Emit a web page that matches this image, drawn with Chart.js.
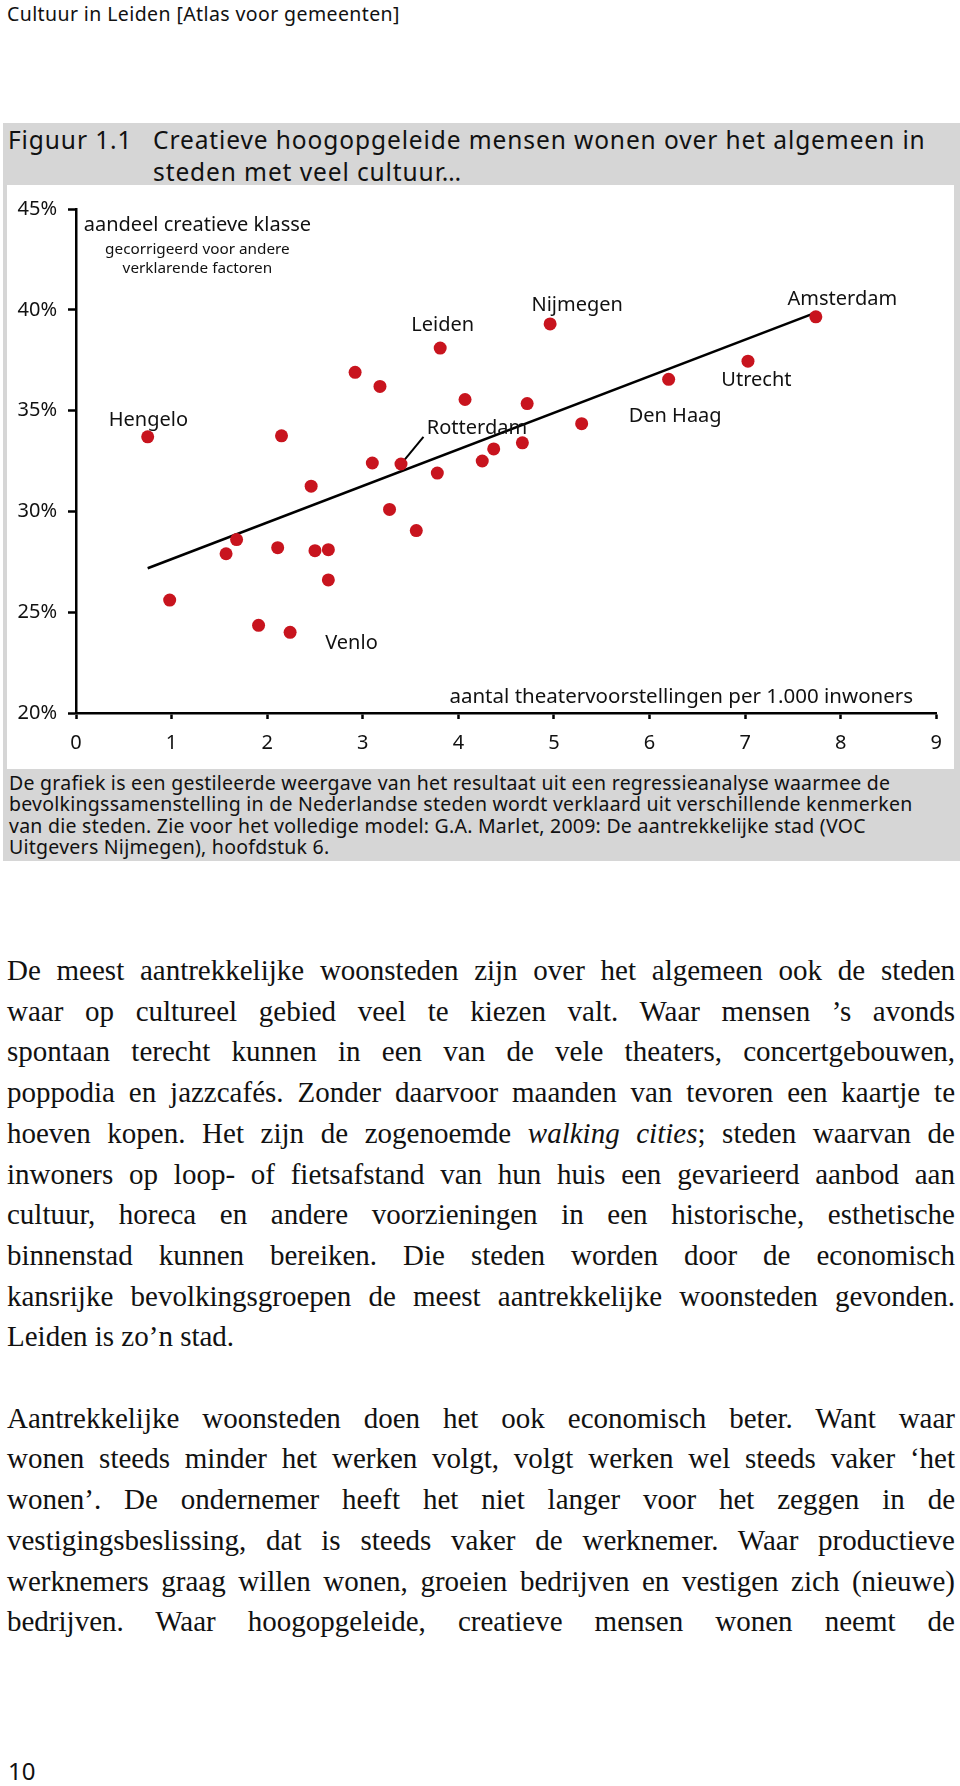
<!DOCTYPE html>
<html>
<head>
<meta charset="utf-8">
<title>Cultuur in Leiden</title>
<script src="https://cdn.jsdelivr.net/npm/chart.js@4.4.1/dist/chart.umd.min.js"></script>
<style>
html,body{margin:0;padding:0;background:#fff;}
body{width:960px;height:1786px;position:relative;overflow:hidden;font-family:"Noto Sans",sans-serif;color:#111;}
.kop{position:absolute;left:7px;top:1px;font-size:19.5px;letter-spacing:.4px;line-height:26px;white-space:nowrap;}
.fig{position:absolute;left:3px;top:123px;width:957px;height:738px;background:#d6d6d6;}
.fig-nr{position:absolute;left:5px;top:1px;font-size:24.5px;letter-spacing:.9px;line-height:32px;}
.fig-tit{position:absolute;left:150px;top:1px;font-size:24.5px;letter-spacing:.9px;line-height:32px;white-space:nowrap;}
.plot{position:absolute;left:4px;top:62px;width:947px;height:584px;background:#fff;}
.bron{position:absolute;left:6px;top:649px;font-size:19.5px;letter-spacing:.25px;line-height:21.3px;white-space:nowrap;}
.tekst{position:absolute;left:7px;top:950px;width:948px;font-family:"Liberation Serif",serif;font-size:29px;line-height:40.7px;color:#111;}
.tekst div{text-align:justify;text-align-last:justify;}
.tekst div.eind{text-align-last:left;}
.pag{position:absolute;left:8px;top:1757px;font-size:24px;line-height:28px;}
</style>
</head>
<body>
<div class="kop">Cultuur in Leiden [Atlas voor gemeenten]</div>

<div class="fig">
  <div class="fig-nr">Figuur 1.1</div>
  <div class="fig-tit">Creatieve hoogopgeleide mensen wonen over het algemeen in<br>steden met veel cultuur…</div>
  <div class="plot"><canvas id="spreiding" width="947" height="584"></canvas></div>
  <div class="bron">De grafiek is een gestileerde weergave van het resultaat uit een regressieanalyse waarmee de<br>bevolkingssamenstelling in de Nederlandse steden wordt verklaard uit verschillende kenmerken<br>van die steden. Zie voor het volledige model: G.A. Marlet, 2009: De aantrekkelijke stad (VOC<br>Uitgevers Nijmegen), hoofdstuk 6.</div>
</div>

<div class="tekst">
  <div>De meest aantrekkelijke woonsteden zijn over het algemeen ook de steden</div>
  <div>waar op cultureel gebied veel te kiezen valt. Waar mensen ’s avonds</div>
  <div>spontaan terecht kunnen in een van de vele theaters, concertgebouwen,</div>
  <div>poppodia en jazzcafés. Zonder daarvoor maanden van tevoren een kaartje te</div>
  <div>hoeven kopen. Het zijn de zogenoemde <i>walking cities</i>; steden waarvan de</div>
  <div>inwoners op loop- of fietsafstand van hun huis een gevarieerd aanbod aan</div>
  <div>cultuur, horeca en andere voorzieningen in een historische, esthetische</div>
  <div>binnenstad kunnen bereiken. Die steden worden door de economisch</div>
  <div>kansrijke bevolkingsgroepen de meest aantrekkelijke woonsteden gevonden.</div>
  <div class="eind">Leiden is zo’n stad.</div>
  <div class="eind">&nbsp;</div>
  <div>Aantrekkelijke woonsteden doen het ook economisch beter. Want waar</div>
  <div>wonen steeds minder het werken volgt, volgt werken wel steeds vaker ‘het</div>
  <div>wonen’. De ondernemer heeft het niet langer voor het zeggen in de</div>
  <div>vestigingsbeslissing, dat is steeds vaker de werknemer. Waar productieve</div>
  <div>werknemers graag willen wonen, groeien bedrijven en vestigen zich (nieuwe)</div>
  <div>bedrijven. Waar hoogopgeleide, creatieve mensen wonen neemt de</div>
</div>

<div class="pag">10</div>

<script>
'use strict';

/* gegevens: theatervoorstellingen per 1.000 inwoners vs aandeel creatieve klasse (%) */
var theaterX=[0.75,2.15,2.92,3.18,3.81,4.07,3.10,3.40,3.78,2.46,4.25,4.96,7.74,7.03,6.20,
              4.72,5.29,4.67,4.37,3.28,3.56,1.68,1.57,2.11,2.50,2.64,2.64,0.98,1.91,2.24];
var creatiefY=[33.7,33.75,36.9,36.2,38.1,35.55,32.4,32.35,31.9,31.25,32.5,39.3,39.65,37.45,36.55,
               35.35,34.35,33.4,33.1,30.1,29.05,28.6,27.9,28.2,28.05,28.1,26.6,25.6,24.35,24.0];

// regressielijn (begin- en eindpunt)
var lijnX=[0.75,7.74];
var lijnY=[27.18,39.86];

// verbindingsstreepje naar label Rotterdam
var streepX=[3.40,3.635];
var streepY=[32.35,33.70];

var xTicks=[0,1,2,3,4,5,6,7,8,9];
var yTicks=[20,25,30,35,40,45];

// stadsnamen, geplaatst in data-eenheden
var steden=['Hengelo','Leiden','Rotterdam','Nijmegen','Amsterdam','Utrecht','Den Haag','Venlo'];
var stadX=[0.757,3.837,4.195,5.243,8.017,7.118,6.268,2.882];
var stadY=[34.53,39.25,34.12,40.24,40.52,36.48,34.70,23.46];

var ROOD='#c8141e';
var FONT='"Noto Sans", "Open Sans", sans-serif';

function punten(xs,ys){
  var out=[];
  for(var i=0;i<xs.length;i++)out.push({x:xs[i],y:ys[i]});
  return out;
}

function vasteTicks(lijst){
  return function(scale){
    scale.ticks=lijst.map(function(v){return{value:v};});
  };
}

var tekstPlugin={
  id:'teksten',
  afterDatasetsDraw:function(chart){
    var ctx=chart.ctx,sx=chart.scales.x,sy=chart.scales.y;
    var items=[];
    for(var i=0;i<steden.length;i++)items.push({t:steden[i],x:stadX[i],y:stadY[i],size:20,align:'center'});
    // astitels
    items.push({t:'aandeel creatieve klasse',x:1.27,y:44.2,size:20,align:'center'});
    items.push({t:'gecorrigeerd voor andere',x:1.27,y:43.0,size:15.3,align:'center'});
    items.push({t:'verklarende factoren',x:1.27,y:42.04,size:15.3,align:'center'});
    items.push({t:'aantal theatervoorstellingen per 1.000 inwoners',x:8.757,y:20.81,size:20.5,align:'right'});
    ctx.save();
    ctx.fillStyle='#111';
    ctx.textBaseline='middle';
    for(var j=0;j<items.length;j++){
      var a=items[j];
      ctx.font=a.size+'px '+FONT;
      ctx.textAlign=a.align;
      ctx.fillText(a.t,sx.getPixelForValue(a.x),sy.getPixelForValue(a.y));
    }
    ctx.restore();
  }
};

var as={
  grid:{display:true,drawOnChartArea:false,drawTicks:true,tickColor:'#000',tickWidth:2.5},
  border:{display:true,color:'#000',width:2.5}
};

new Chart(document.getElementById('spreiding'),{
  type:'scatter',
  data:{datasets:[
    {type:'scatter',data:punten(theaterX,creatiefY),pointBackgroundColor:ROOD,pointBorderWidth:0,
     pointRadius:6.5,order:0,clip:false},
    {type:'line',data:punten(lijnX,lijnY),borderColor:'#000',borderWidth:2.6,pointRadius:0,order:1,clip:false},
    {type:'line',data:punten(streepX,streepY),borderColor:'#000',borderWidth:2,pointRadius:0,order:1,clip:false}
  ]},
  options:{
    responsive:false,animation:false,devicePixelRatio:1,
    layout:{padding:{left:0,right:14,top:24,bottom:0}},
    plugins:{legend:{display:false},tooltip:{enabled:false}},
    scales:{
      x:{type:'linear',min:0,max:9,
        afterBuildTicks:vasteTicks(xTicks),
        afterFit:function(s){s.height=56;},
        grid:Object.assign({},as.grid,{tickLength:6}),border:as.border,
        ticks:{color:'#111',font:{family:FONT,size:20},padding:12,maxRotation:0,autoSkip:false}},
      y:{type:'linear',min:20,max:45,
        afterBuildTicks:vasteTicks(yTicks),
        afterFit:function(s){s.width=69;},
        grid:Object.assign({},as.grid,{tickLength:8}),border:as.border,
        ticks:{color:'#111',font:{family:FONT,size:20},padding:11,autoSkip:false,
          callback:function(v){return v+'%';}}}
    }
  },
  plugins:[tekstPlugin]
});
</script>
</body>
</html>
